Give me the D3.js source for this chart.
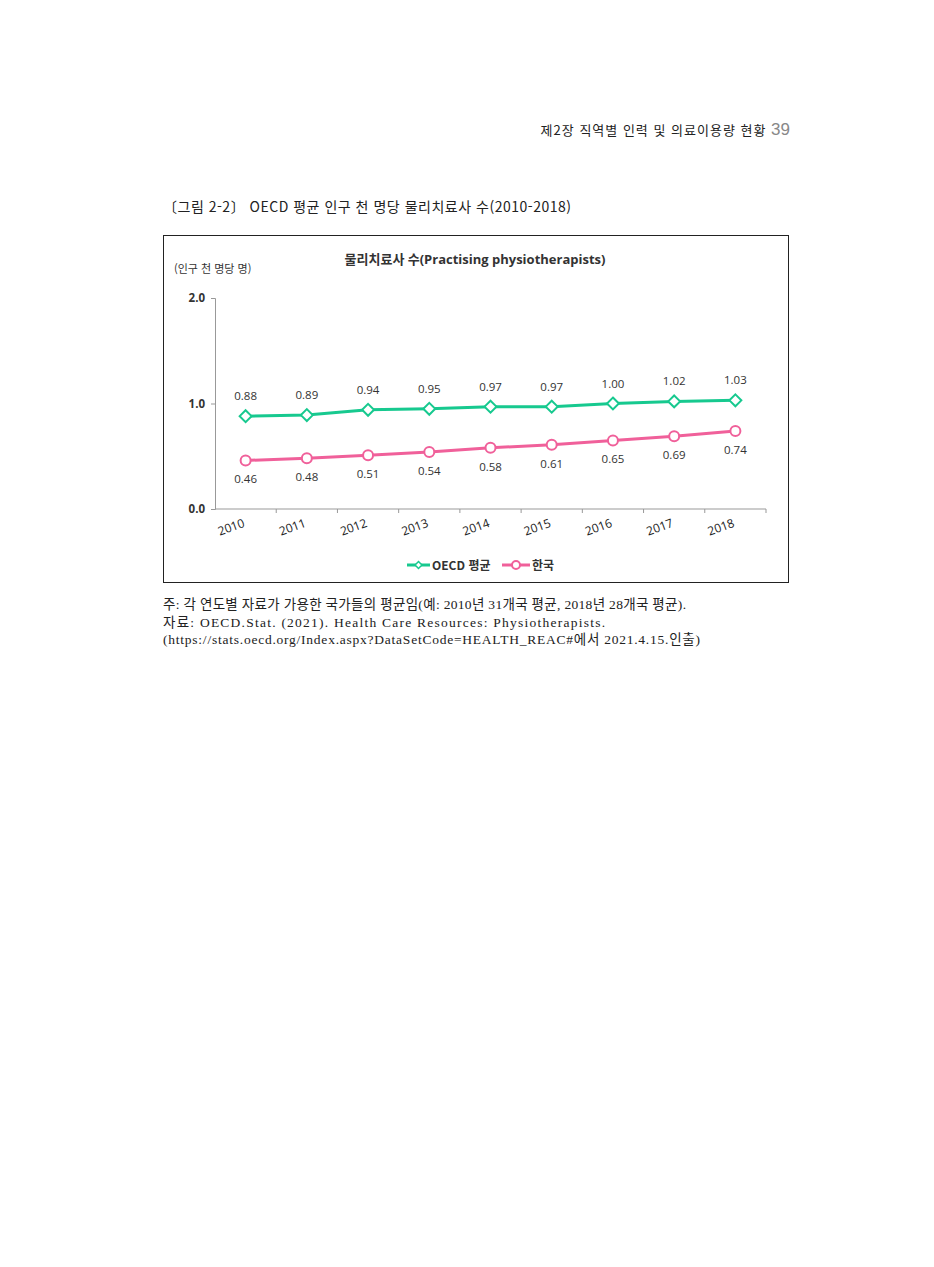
<!DOCTYPE html>
<html lang="ko">
<head>
<meta charset="UTF-8">
<title>OECD 평균 인구 천 명당 물리치료사 수</title>
<script src="https://d3js.org/d3.v7.min.js"></script>
<style>
  body { margin: 0; background: #fff; }
  svg { display: block; }
  .sans { font-family: "Open Sans", "Noto Sans CJK KR", sans-serif; }
  .kr { font-family: "Noto Sans CJK KR", sans-serif; }
  .serif { font-family: "Liberation Serif", "Noto Sans CJK KR", serif; }
</style>
</head>
<body>
<div id="page"></div>
<script>
  // data
  const years = ["2010", "2011", "2012", "2013", "2014", "2015", "2016", "2017", "2018"];
  const oecd = [0.88, 0.89, 0.94, 0.95, 0.97, 0.97, 1.00, 1.02, 1.03];
  const korea = [0.46, 0.48, 0.51, 0.54, 0.58, 0.61, 0.65, 0.69, 0.74];
  const yTicks = [0, 1, 2];
  const seriesNames = ["OECD 평균", "한국"];

  const green = "#17c98f";
  const pink = "#f0609a";

  const W = 934, H = 1267;
  const svg = d3.select("#page").append("svg")
    .attr("width", W).attr("height", H);

  // page header
  const head = svg.append("text")
    .attr("x", 790).attr("y", 135)
    .attr("text-anchor", "end")
    .attr("class", "kr");
  head.append("tspan").attr("font-size", 13).attr("fill", "#222")
    .attr("letter-spacing", 1)
    .text("제2장 직역별 인력 및 의료이용량 현황 ");
  head.append("tspan").attr("font-size", 17).attr("fill", "#888")
    .attr("font-family", "Liberation Sans, sans-serif").text("39");

  svg.append("text")
    .attr("x", 163).attr("y", 212)
    .attr("class", "kr").attr("font-size", 14).attr("fill", "#222")
    .attr("textLength", 408).attr("lengthAdjust", "spacing")
    .text("〔그림 2-2〕 OECD 평균 인구 천 명당 물리치료사 수(2010-2018)");

  // chart frame
  svg.append("rect")
    .attr("x", 163.5).attr("y", 235.5)
    .attr("width", 625).attr("height", 347)
    .attr("fill", "#fff").attr("stroke", "#222").attr("stroke-width", 1);

  svg.append("text")
    .attr("x", 475).attr("y", 264)
    .attr("text-anchor", "middle")
    .attr("class", "sans").attr("font-size", 13).attr("font-weight", "bold")
    .attr("fill", "#333")
    .text("물리치료사 수(Practising  physiotherapists)");

  svg.append("text")
    .attr("x", 174).attr("y", 273)
    .attr("class", "kr").attr("font-size", 11).attr("fill", "#333")
    .text("(인구 천 명당 명)");

  // scales
  const x = d3.scaleBand().domain(years).range([215, 766]).padding(0);
  const y = d3.scaleLinear().domain([0, 2]).range([509, 298]);
  const cx = d => x(d) + x.bandwidth() / 2;

  // y axis
  const yAxis = svg.append("g")
    .attr("transform", "translate(215,0)")
    .call(d3.axisLeft(y).tickValues(yTicks).tickSize(4).tickFormat(d3.format(".1f")));
  yAxis.select(".domain").attr("stroke", "#999");
  yAxis.selectAll(".tick line").attr("stroke", "#999");
  yAxis.selectAll(".tick text")
    .attr("class", "sans").attr("font-size", 11.5).attr("font-weight", "bold")
    .attr("fill", "#333").attr("dx", -3);

  // x axis
  const xAxis = svg.append("g")
    .attr("transform", "translate(0,509)")
    .call(d3.axisBottom(x).tickSize(0).tickFormat(""));
  xAxis.select(".domain").attr("stroke", "#999").attr("d", "M215,0H766");
  xAxis.selectAll(".tick").remove();
  xAxis.selectAll(".bt")
    .data(years.slice(1).concat(["end"]))
    .join("line")
    .attr("class", "bt")
    .attr("x1", (d, i) => x(years[0]) + x.bandwidth() * (i + 1))
    .attr("x2", (d, i) => x(years[0]) + x.bandwidth() * (i + 1))
    .attr("y1", 0).attr("y2", 4)
    .attr("stroke", "#999");

  svg.append("g").selectAll("text")
    .data(years)
    .join("text")
    .attr("class", "sans").attr("font-size", 12)
    .attr("fill", "#222").attr("text-anchor", "middle")
    .attr("transform", d => `translate(${cx(d) - 13},${531}) rotate(-20)`)
    .text(d => d);

  // lines
  const line = d3.line().x((d, i) => cx(years[i])).y(d => y(d));

  svg.append("path").datum(oecd)
    .attr("d", line).attr("fill", "none")
    .attr("stroke", green).attr("stroke-width", 3);
  svg.append("path").datum(korea)
    .attr("d", line).attr("fill", "none")
    .attr("stroke", pink).attr("stroke-width", 3);

  const diamond = d3.symbol().type(d3.symbolDiamond2).size(90);

  svg.append("g").selectAll("path")
    .data(oecd)
    .join("path")
    .attr("d", diamond)
    .attr("transform", (d, i) => `translate(${cx(years[i])},${y(d)})`)
    .attr("fill", "#fff").attr("stroke", green).attr("stroke-width", 2);

  svg.append("g").selectAll("circle")
    .data(korea)
    .join("circle")
    .attr("cx", (d, i) => cx(years[i])).attr("cy", d => y(d))
    .attr("r", 5)
    .attr("fill", "#fff").attr("stroke", pink).attr("stroke-width", 2);

  // value labels
  svg.append("g").selectAll("text")
    .data(oecd)
    .join("text")
    .attr("class", "sans").attr("font-size", 11.5).attr("fill", "#333")
    .attr("text-anchor", "middle")
    .attr("x", (d, i) => cx(years[i])).attr("y", d => y(d) - 16)
    .text(d => d.toFixed(2));

  svg.append("g").selectAll("text")
    .data(korea)
    .join("text")
    .attr("class", "sans").attr("font-size", 11.5).attr("fill", "#333")
    .attr("text-anchor", "middle")
    .attr("x", (d, i) => cx(years[i])).attr("y", d => y(d) + 23)
    .text(d => d.toFixed(2));

  // legend
  const legend = svg.append("g").attr("transform", "translate(0,565)");
  const items = [
    {name: seriesNames[0], color: green, x0: 407, tx: 432, shape: "d"},
    {name: seriesNames[1], color: pink, x0: 502, tx: 532, shape: "c"}
  ];
  items.forEach(it => {
    legend.append("line")
      .attr("x1", it.x0).attr("x2", it.tx - 2)
      .attr("y1", 0).attr("y2", 0)
      .attr("stroke", it.color).attr("stroke-width", 3);
    const mx = (it.x0 + it.tx - 2) / 2;
    if (it.shape === "d") {
      legend.append("path")
        .attr("d", d3.symbol().type(d3.symbolDiamond2).size(30))
        .attr("transform", `translate(${mx},0)`)
        .attr("fill", "#fff").attr("stroke", it.color).attr("stroke-width", 1.5);
    } else {
      legend.append("circle")
        .attr("cx", mx).attr("cy", 0).attr("r", 4)
        .attr("fill", "#fff").attr("stroke", it.color).attr("stroke-width", 2);
    }
    legend.append("text")
      .attr("x", it.tx).attr("y", 4.5)
      .attr("class", "kr").attr("font-size", 12).attr("font-weight", "bold")
      .attr("fill", "#333")
      .text(it.name);
  });

  // notes
  const notes = [
    "주: 각 연도별 자료가 가용한 국가들의 평균임(예: 2010년 31개국 평균, 2018년 28개국 평균).",
    "자료: OECD.Stat. (2021). Health Care Resources: Physiotherapists.",
    "(https://stats.oecd.org/Index.aspx?DataSetCode=HEALTH_REAC#에서 2021.4.15.인출)"
  ];
  const noteWidths = [523, 442, 537];
  svg.append("g").selectAll("text")
    .data(notes)
    .join("text")
    .attr("class", "serif").attr("font-size", 13.5).attr("fill", "#222")
    .attr("x", 163).attr("y", (d, i) => 609 + i * 17.5)
    .attr("textLength", (d, i) => noteWidths[i]).attr("lengthAdjust", "spacing")
    .text(d => d);
</script>
</body>
</html>
